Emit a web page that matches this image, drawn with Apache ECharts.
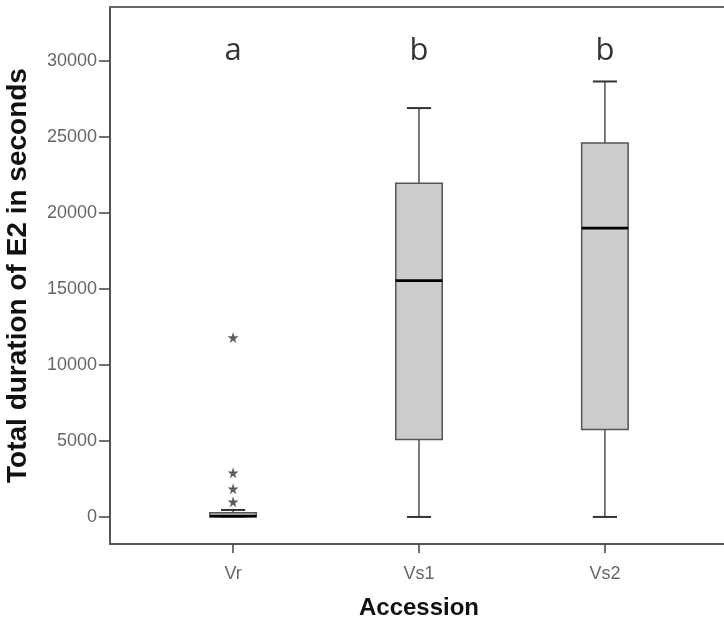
<!DOCTYPE html>
<html>
<head>
<meta charset="utf-8">
<script src="https://cdn.jsdelivr.net/npm/echarts@6/dist/echarts.min.js"></script>
<style>html,body{margin:0;padding:0;background:#fff;}#c{width:724px;height:628px;}</style>
</head>
<body>
<div id="c"></div>
<script>
const categories = ['Vr', 'Vs1', 'Vs2'];
// [min, Q1, median, Q3, max]
const boxValues = [
  [0, 0, 60, 280, 460],
  [0, 5100, 15550, 21950, 26900],
  [0, 5750, 19000, 24600, 28650]
];
// outliers: [category index, value]
const outliers = [
  [0, 11800],
  [0, 2900],
  [0, 1850],
  [0, 1000]
];
const letters = ['a', 'b', 'b'];
const letterLevel = 30650;
const yTicks = [0, 5000, 10000, 15000, 20000, 25000, 30000];

const boxData = boxValues.map((v, i) => [i + 1].concat(v));
const outlierData = outliers.map(o => [o[0] + 1, o[1]]);
const letterData = letters.map((l, i) => ({ value: [i + 1, letterLevel], name: l }));

const chart = echarts.init(document.getElementById('c'));
const star = 'path://M50,0 L61,35 L98,35 L68,57 L79,91 L50,70 L21,91 L32,57 L2,35 L39,35 Z';

chart.setOption({
  animation: false,
  backgroundColor: '#fff',
  grid: { left: 110, right: -4, top: 7, bottom: 84, containLabel: false, outerBoundsMode: 'none' },
  xAxis: [{
    type: 'value',
    min: 0.338,
    max: 3.662,
    name: 'Accession',
    nameLocation: 'middle',
    nameGap: 52,
    nameTextStyle: { fontFamily: 'Liberation Sans', fontWeight: 'bold', fontSize: 24, color: '#111' },
    splitLine: { show: false },
    axisLine: { show: true, onZero: false, lineStyle: { color: '#555', width: 2 } },
    axisTick: { show: true, length: 9, customValues: [1, 2, 3], lineStyle: { color: '#444', width: 1.5 } },
    axisLabel: {
      customValues: [1, 2, 3],
      formatter: v => categories[Math.round(v) - 1] || '',
      fontFamily: 'Liberation Sans', fontSize: 18, color: '#666', margin: 21
    }
  }, {
    type: 'value',
    position: 'top',
    min: 0.338,
    max: 3.662,
    splitLine: { show: false },
    axisLine: { show: true, onZero: false, lineStyle: { color: '#666', width: 2 } },
    axisTick: { show: false },
    axisLabel: { show: false }
  }],
  yAxis: {
    type: 'value',
    min: -1780,
    max: 33550,
    name: 'Total duration of E2 in seconds',
    nameLocation: 'middle',
    nameGap: 78,
    nameTextStyle: { fontFamily: 'Liberation Sans', fontWeight: 'bold', fontSize: 28, color: '#111' },
    splitLine: { show: false },
    axisLine: { show: true, onZero: false, lineStyle: { color: '#555', width: 2 } },
    axisTick: { show: true, length: 11, customValues: yTicks, lineStyle: { color: '#444', width: 1.5 } },
    axisLabel: {
      customValues: yTicks,
      formatter: v => String(v),
      fontFamily: 'Liberation Sans', fontSize: 18, color: '#666', margin: 13
    }
  },
  series: [{
    type: 'custom',
    data: boxData,
    encode: { x: 0, y: [1, 2, 3, 4, 5] },
    renderItem: function (params, api) {
      const x = api.value(0);
      const pMin = api.coord([x, api.value(1)]);
      const pQ1 = api.coord([x, api.value(2)]);
      const pMed = api.coord([x, api.value(3)]);
      const pQ3 = api.coord([x, api.value(4)]);
      const pMax = api.coord([x, api.value(5)]);
      const bw = api.size([0.25, 0])[0];
      const cw = api.size([0.13, 0])[0];
      const cx = pMed[0];
      const lineStyle = { stroke: '#333', lineWidth: 1.3 };
      return {
        type: 'group',
        children: [
          { type: 'line', shape: { x1: cx, y1: pQ3[1], x2: cx, y2: pMax[1] }, style: lineStyle },
          { type: 'line', shape: { x1: cx - cw / 2, y1: pMax[1], x2: cx + cw / 2, y2: pMax[1] }, style: { stroke: '#333', lineWidth: 2 } },
          { type: 'line', shape: { x1: cx, y1: pQ1[1], x2: cx, y2: pMin[1] }, style: lineStyle },
          { type: 'line', shape: { x1: cx - cw / 2, y1: pMin[1], x2: cx + cw / 2, y2: pMin[1] }, style: { stroke: '#333', lineWidth: 2 } },
          { type: 'rect', shape: { x: cx - bw / 2, y: pQ3[1], width: bw, height: pQ1[1] - pQ3[1] }, style: { fill: '#cccccc', stroke: '#555', lineWidth: 1.5 } },
          { type: 'line', shape: { x1: cx - bw / 2, y1: pMed[1], x2: cx + bw / 2, y2: pMed[1] }, style: { stroke: '#000', lineWidth: 2.6 } }
        ]
      };
    },
    z: 2
  }, {
    type: 'scatter',
    data: outlierData,
    symbol: star,
    symbolSize: 11,
    itemStyle: { color: '#333' },
    z: 3
  }, {
    type: 'scatter',
    data: letterData,
    symbolSize: 0,
    label: {
      show: true,
      position: 'inside',
      formatter: p => p.name,
      fontFamily: 'Open Sans',
      fontSize: 31,
      color: '#000'
    },
    z: 4
  }]
});
</script>
</body>
</html>
